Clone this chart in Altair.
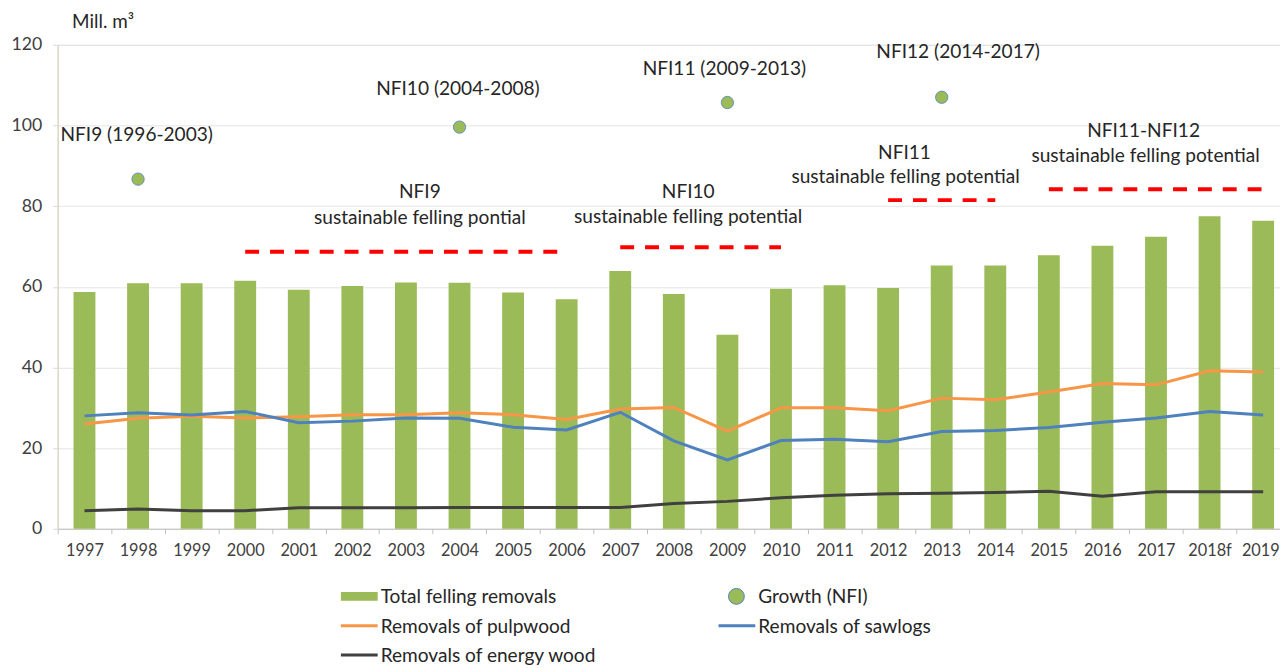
import altair as alt
import pandas as pd

# ---------------- data ----------------
years = ["1997", "1998", "1999", "2000", "2001", "2002", "2003", "2004", "2005", "2006",
         "2007", "2008", "2009", "2010", "2011", "2012", "2013", "2014", "2015", "2016",
         "2017", "2018f", "2019f"]
total_felling = [58.7, 60.9, 60.9, 61.5, 59.3, 60.2, 61.1, 61.0, 58.6, 56.9,
                 63.9, 58.2, 48.1, 59.5, 60.4, 59.7, 65.3, 65.3, 67.8, 70.2,
                 72.4, 77.5, 76.4]
pulpwood = [26.0, 27.4, 27.9, 27.5, 27.8, 28.3, 28.3, 28.8, 28.3, 27.1,
            29.7, 30.1, 24.2, 30.0, 30.0, 29.3, 32.4, 32.0, 33.9, 36.0,
            35.7, 39.2, 38.9]
sawlogs = [28.0, 28.8, 28.2, 29.1, 26.3, 26.7, 27.5, 27.4, 25.2, 24.5,
           28.9, 21.8, 17.1, 21.9, 22.2, 21.6, 24.1, 24.4, 25.1, 26.4,
           27.5, 29.1, 28.2]
energy_wood = [4.5, 4.9, 4.5, 4.5, 5.2, 5.2, 5.2, 5.3, 5.3, 5.3,
               5.3, 6.3, 6.8, 7.7, 8.3, 8.7, 8.8, 9.0, 9.3, 8.1,
               9.2, 9.2, 9.2]

growth_years = ["1998", "2004", "2009", "2013"]
growth_values = [86.7, 99.6, 105.7, 107.0]

potential_start = ["2000", "2007", "2012", "2015"]
potential_end = ["2006", "2010", "2014", "2019f"]
potential_values = [68.7, 69.8, 81.5, 84.2]

ann_labels = ["NFI9 (1996-2003)", "NFI10 (2004-2008)", "NFI11 (2009-2013)", "NFI12 (2014-2017)",
              "NFI9", "sustainable felling  pontial",
              "NFI10", "sustainable felling potential",
              "NFI11", "sustainable felling potential",
              "NFI11-NFI12", "sustainable felling potential"]
ann_years = ["1998", "2004", "2009", "2013",
             "2003", "2003",
             "2008", "2008",
             "2012", "2012",
             "2017", "2017"]
ann_values = [97.6, 109.1, 114.1, 118.3,
              83.4, 77.1,
              83.6, 77.4,
              93.2, 87.3,
              98.6, 92.4]
ann_dx = [-1.4, -1.6, -3, 16.5,
          14, 14,
          14.5, 14.5,
          16.5, 17.5,
          -12.5, -10.5]

leg_labels = ["Total felling removals", "Growth (NFI)", "Removals of pulpwood",
              "Removals of sawlogs", "Removals of energy wood"]
leg_col = [0, 1, 0, 1, 0]
leg_row = [0, 0, 1, 1, 2]
leg_kind = ["bar", "point", "line", "line", "line"]

GREEN = "#9BBB59"
ORANGE = "#F79646"
BLUE = "#4F81BD"
DARK = "#404040"
RED = "#FF0000"
TXT = "#262626"
leg_colors = [GREEN, GREEN, ORANGE, BLUE, DARK]

FONT = "Lato"

df = pd.DataFrame({"year": years, "total": total_felling, "pulp": pulpwood,
                   "saw": sawlogs, "energy": energy_wood})
gdf = pd.DataFrame({"year": growth_years, "value": growth_values})
pdf = pd.DataFrame({"start": potential_start, "end": potential_end, "value": potential_values})
adf = pd.DataFrame({"year": ann_years, "value": ann_values, "label": ann_labels, "i": list(range(len(ann_labels)))})
ldf = pd.DataFrame({"label": leg_labels, "col": leg_col, "row": leg_row,
                    "kind": leg_kind, "color": leg_colors})

# ---------------- scales / axes ----------------
x_scale = alt.Scale(domain=years, paddingInner=0, paddingOuter=0)
x_axis = alt.Axis(title=None, labelAngle=0, tickBand="extent", tickSize=5,
                  tickColor="#BFBFBF", domainColor="#BFBFBF", labelFontSize=16.4,
                  labelColor="#404040", labelPadding=9, grid=False, labelFont=FONT)
y_scale = alt.Scale(domain=[0, 120], nice=False, zero=True)
y_axis = alt.Axis(values=[0, 20, 40, 60, 80, 100, 120], grid=True, gridColor="#E4E4E4",
                  domainColor="#D8D4B4", tickColor="#D9D9D9", tickSize=5,
                  labelFontSize=17.8, labelColor="#404040", labelPadding=11, labelFont=FONT,
                  title="Mill. m³", titleAngle=0, titleX=14, titleY=-23, titleAlign="left",
                  titleBaseline="middle", titleFontWeight="normal", titleFontSize=19,
                  titleColor=TXT, titleFont=FONT)


def X(field):
    return alt.X(f"{field}:N", sort=years, scale=x_scale, axis=x_axis)


def Y(field):
    return alt.Y(f"{field}:Q", scale=y_scale, axis=y_axis)


bars = alt.Chart(df).mark_bar(size=22, color=GREEN).encode(x=X("year"), y=Y("total"))

lines = []
for field, color in [("energy", DARK), ("pulp", ORANGE), ("saw", BLUE)]:
    lines.append(alt.Chart(df).mark_line(color=color, strokeWidth=3).encode(x=X("year"), y=Y(field)))

points = alt.Chart(gdf).mark_point(filled=True, size=154, shape="circle", fill=GREEN,
                                   stroke=BLUE, strokeWidth=0.8, opacity=1).encode(
    x=X("year"), y=Y("value"))

rules = alt.Chart(pdf).mark_rule(color=RED, strokeWidth=4, strokeDash=[14, 11], strokeCap="butt").encode(
    x=X("start"), x2=alt.X2("end:N"), y=Y("value"))

texts = []
for i in range(len(ann_labels)):
    texts.append(
        alt.Chart(adf).transform_filter(alt.datum.i == i).mark_text(
            font=FONT, fontSize=19.2, color=TXT, align="center", baseline="middle", dx=ann_dx[i]
        ).encode(x=X("year"), y=Y("value"), text="label:N")
    )

main = alt.layer(bars, *lines, points, rules, *texts)

# ---------------- legend (own scales) ----------------
lx = alt.X("col:Q", scale=alt.Scale(domain=[0, 1], range=[285, 665], nice=False, zero=False), axis=None)
ly = alt.Y("row:Q", scale=alt.Scale(domain=[0, 2], range=[555, 614], nice=False, zero=False), axis=None)

leg_bar = alt.Chart(ldf).transform_filter(alt.datum.kind == "bar").mark_rect(
    x2Offset=37, yOffset=-4.5, y2Offset=4.5).encode(
    x=lx, x2=alt.X2("col:Q"), y=ly, y2=alt.Y2("row:Q"), color=alt.Color("color:N", scale=None))
leg_pt = alt.Chart(ldf).transform_filter(alt.datum.kind == "point").mark_point(
    filled=True, shape="circle", size=254, xOffset=18, fill=GREEN, stroke=BLUE,
    strokeWidth=1, opacity=1).encode(x=lx, y=ly)
leg_line = alt.Chart(ldf).transform_filter(alt.datum.kind == "line").mark_rule(
    x2Offset=37, strokeWidth=3).encode(
    x=lx, x2=alt.X2("col:Q"), y=ly, color=alt.Color("color:N", scale=None))
leg_txt = alt.Chart(ldf).mark_text(font=FONT, fontSize=19.2, color=TXT, align="left",
                                   baseline="middle", dx=40, dy=1).encode(x=lx, y=ly, text="label:N")
legend = alt.layer(leg_bar, leg_pt, leg_line, leg_txt)

chart = alt.layer(main, legend).resolve_scale(x="independent", y="independent").properties(
    width=1240, height=487,
    padding={"left": 50, "top": 35, "right": -10, "bottom": 138},
    autosize=alt.AutoSizeParams(type="none"),
    background="white",
).configure_view(stroke=None).configure(font=FONT)

chart.save("out.html", embed_options={"renderer": "svg", "actions": False})
